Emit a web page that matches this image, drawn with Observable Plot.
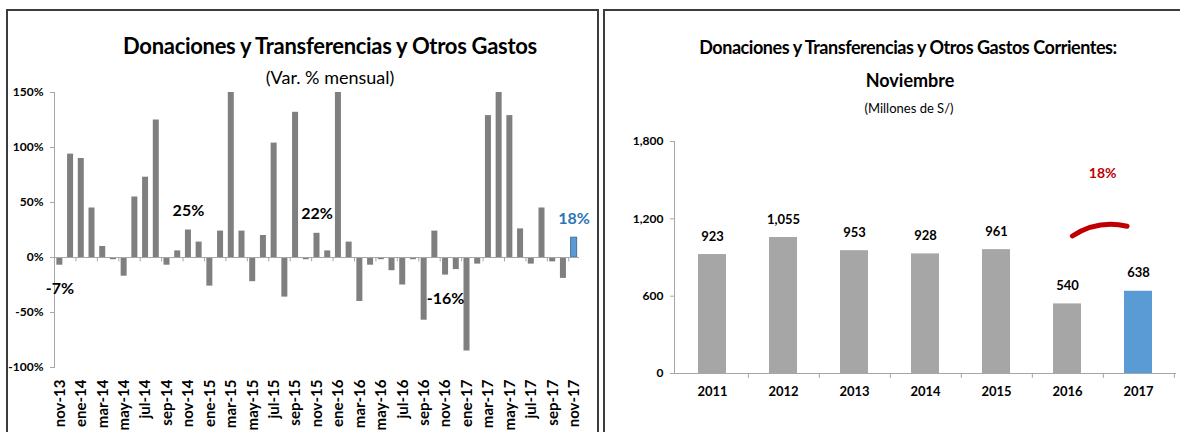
<!DOCTYPE html>
<html><head><meta charset="utf-8">
<script src="https://cdn.jsdelivr.net/npm/d3@7"></script>
<script src="https://cdn.jsdelivr.net/npm/@observablehq/plot@0.6"></script>
<style>
body{margin:0;background:#fff;font-family:Lato,"Open Sans",sans-serif;}
#wrap{position:relative;width:1180px;height:432px;overflow:hidden;background:#fff;}
.panel{position:absolute;border:2px solid #3c3c3c;box-sizing:border-box;z-index:3;}
.t{position:absolute;text-align:center;white-space:nowrap;color:#000;z-index:4;}
.plot{position:absolute;top:0;z-index:1;}
</style></head><body>
<div id="wrap">
  <div class="panel" style="left:6px;top:9px;width:593px;height:450px"></div>
  <div class="panel" style="left:603px;top:9px;width:600px;height:450px"></div>
  <div class="t" style="left:30px;width:600px;top:33px;font-size:22px;line-height:26px;font-weight:bold;letter-spacing:-0.3px">Donaciones y Transferencias y Otros Gastos</div>
  <div class="t" style="left:30px;width:600px;top:66px;font-size:18px;line-height:22px">(Var. % mensual)</div>
  <div class="t" style="left:608px;width:600px;top:36px;font-size:18px;line-height:22px;font-weight:bold;letter-spacing:-0.45px">Donaciones y Transferencias y Otros Gastos Corrientes:</div>
  <div class="t" style="left:610px;width:600px;top:69px;font-size:18px;line-height:22px;font-weight:bold">Noviembre</div>
  <div class="t" style="left:609px;width:600px;top:100px;font-size:13px;line-height:16px">(Millones de S/)</div>
  <div class="plot" id="left" style="left:0"></div>
  <div class="plot" id="right" style="left:600px"></div>
</div>
<script>
// ---- Left chart data: monthly % change ----
const months = ["nov-13","dic-13","ene-14","feb-14","mar-14","abr-14","may-14","jun-14","jul-14","ago-14","sep-14","oct-14",
  "nov-14","dic-14","ene-15","feb-15","mar-15","abr-15","may-15","jun-15","jul-15","ago-15","sep-15","oct-15",
  "nov-15","dic-15","ene-16","feb-16","mar-16","abr-16","may-16","jun-16","jul-16","ago-16","sep-16","oct-16",
  "nov-16","dic-16","ene-17","feb-17","mar-17","abr-17","may-17","jun-17","jul-17","ago-17","sep-17","oct-17","nov-17"];
const pctChange = [-7,94,90,45,10,-2,-17,55,73,125,-7,6,
  25,14,-26,24,150,24,-22,20,104,-36,132,-2,
  22,6,150,14,-40,-7,-2,-12,-25,-2,-57,24,
  -16,-11,-85,-6,129,150,129,26,-6,45,-4,-19,18];
const labelledMonths = ["nov-13","nov-14","nov-15","nov-16","nov-17"];
const highlightMonth = "nov-17";
const pctTicks = [-100,-50,0,50,100,150];

// ---- Right chart data: November, millions of S/ ----
const years = ["2011","2012","2013","2014","2015","2016","2017"];
const novAmounts = [923,1055,953,928,961,540,638];
const amountTicks = [0,600,1200,1800];
const highlightYear = "2017";
const growthArc = {from:"2016", to:"2017", yFrom:1040, yTo:1115, labelY:1551};

const GRAY_L = "#7f7f7f", GRAY_R = "#a6a6a6", BLUE = "#5b9bd5", AXIS = "#a6a6a6", RED = "#c00000";

// Left
const leftData = months.map((m,i)=>({month:m, value:pctChange[i]}));
const LW = 600, LML = 54, LMR = 21;
const lStep = (LW-LML-LMR)/months.length;
const left = Plot.plot({
  width: LW, height: 432, marginLeft: LML, marginRight: LMR, marginTop: 92, marginBottom: 65,
  style: {background:"transparent", overflow:"visible", fontFamily:"Lato, sans-serif", fontWeight:"bold", fontSize:"13px", color:"#000"},
  x: {domain: months, paddingInner: 0.44, paddingOuter: 0.22, axis: null, label: null},
  y: {domain: [-100,150], axis: null, label: null},
  marks: [
    Plot.frame({anchor:"left", stroke: AXIS}),
    Plot.barY(leftData, {x:"month", y:"value", fill: d => d.month===highlightMonth ? BLUE : GRAY_L,
      stroke: d => d.month===highlightMonth ? "#41719c" : "none"}),
    Plot.ruleY([0], {stroke: AXIS}),
    Plot.ruleX(months.filter((d,i)=>i%2===1), {y1:0, y2:-4, dx: lStep/2, stroke: AXIS}),
    Plot.axisY({ticks: pctTicks, tickFormat: d => d+"%", tickSize: 4, tickPadding: 7, stroke: AXIS, fill:"#000", fontSize: 12, label: null}),
    Plot.axisX({ticks: months.filter((d,i)=>i%2===0), tickRotate: -90, tickSize: 0, tickPadding: 12, fontSize: 15, fill:"#000", label: null}),
    Plot.text(leftData.filter(d=>labelledMonths.includes(d.month) && d.value>=0), {x:"month", y:"value", text: d=>d.value+"%", dy:-19,
      fill: d => d.month===highlightMonth ? "#2e75b6" : "#000", fontSize: 16}),
    Plot.text(leftData.filter(d=>labelledMonths.includes(d.month) && d.value<0), {x:"month", y:"value", text: d=>d.value+"%", dy:24,
      fill:"#000", fontSize: 16})
  ]
});
document.getElementById("left").appendChild(left);

// Right
const rightData = years.map((y,i)=>({year:y, value:novAmounts[i]}));
const RW = 580, RML = 74, RMR = 4;
const rStep = (RW-RML-RMR)/years.length;
const growth = Math.round((novAmounts[years.indexOf(growthArc.to)]/novAmounts[years.indexOf(growthArc.from)]-1)*100);
const right = Plot.plot({
  width: RW, height: 432, marginLeft: RML, marginRight: RMR, marginTop: 141, marginBottom: 59,
  style: {background:"transparent", overflow:"visible", fontFamily:"Lato, sans-serif", fontWeight:"bold", fontSize:"12px", color:"#000"},
  x: {domain: years, paddingInner: 0.6, paddingOuter: 0.3, axis: null, label: null},
  y: {domain: [0,1800], axis: null, label: null},
  marks: [
    Plot.frame({anchor:"left", stroke: AXIS}),
    Plot.barY(rightData, {x:"year", y:"value", fill: d => d.year===highlightYear ? BLUE : GRAY_R}),
    Plot.ruleY([0], {stroke: AXIS}),
    Plot.ruleX(years, {y1:0, y2:-38, dx: rStep/2, stroke: AXIS}),
    Plot.axisY({ticks: amountTicks, tickFormat: d3.format(","), tickSize: 4, tickPadding: 7, stroke: AXIS, fill:"#000", fontSize: 12, label: null}),
    Plot.axisX({tickSize: 0, tickPadding: 13, fill:"#000", fontSize: 13, label: null}),
    Plot.text(rightData, {x:"year", y:"value", text: d=>d3.format(",")(d.value), dy:-18, fill:"#000", fontSize: 13}),
    Plot.arrow([growthArc], {x1:"from", y1:"yFrom", x2:"to", y2:"yTo", bend: 30, headLength: 0, stroke: RED, strokeWidth: 5,
      insetStart: 6, insetEnd: 12, strokeLinecap:"round"}),
    Plot.text([growthArc], {x:"to", y:"labelY", text: () => growth+"%", dx: -rStep/2, fill: RED, fontSize: 14})
  ]
});
document.getElementById("right").appendChild(right);
</script>
</body></html>
